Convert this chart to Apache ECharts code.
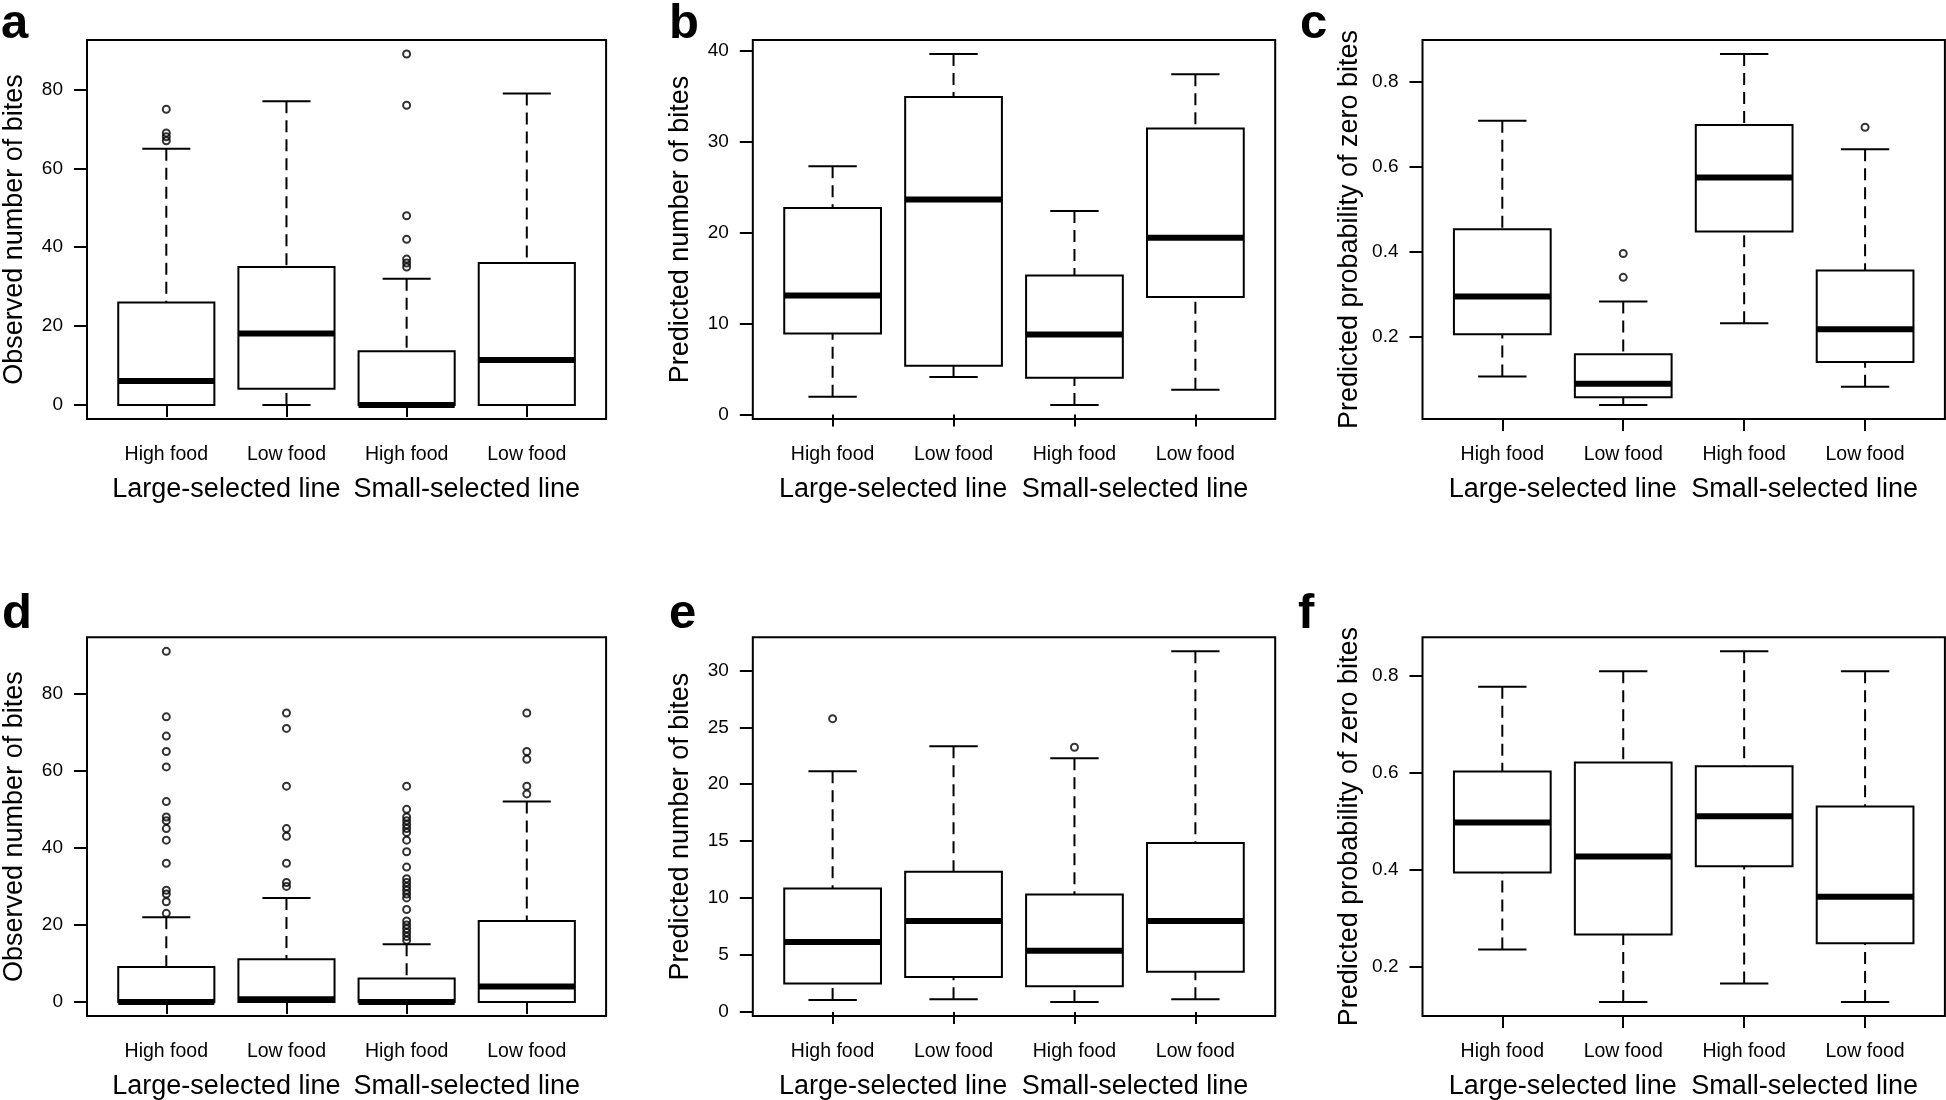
<!DOCTYPE html>
<html lang="en">
<head>
<meta charset="utf-8">
<title>Bites boxplots</title>
<script src="https://cdn.jsdelivr.net/npm/echarts@6.0.0/dist/echarts.min.js"></script>
<style>
  html, body { margin: 0; padding: 0; background: #fff; }
  #chart { width: 1946px; height: 1100px; }
</style>
</head>
<body>
<div id="chart"></div>
<script>
// categories and group labels
var cats = ['High food', 'Low food', 'High food', 'Low food'];
var groups = ['Large-selected line', 'Small-selected line'];

// five-number summaries per box: [lower whisker, Q1, median, Q3, upper whisker]
var aStats = [[0, 0, 6.1, 26.0, 65.0], [0, 4.1, 18.1, 35.0, 77.0], [0, 0, 0, 13.6, 32.0], [0, 0, 11.4, 36.0, 79.0]];
var aOut = [[75, 69, 68, 67], [], [89, 76, 48, 42, 37, 36, 35], []];

var bStats = [[1.97, 8.91, 13.08, 22.68, 27.29], [4.13, 5.37, 23.63, 34.89, 39.6], [1.06, 4.05, 8.80, 15.27, 22.36], [2.74, 12.93, 19.43, 31.42, 37.37]];
var bOut = [[], [], [], []];

var cStats = [[0.107, 0.206, 0.295, 0.453, 0.708], [0.040, 0.058, 0.090, 0.159, 0.283], [0.232, 0.448, 0.575, 0.698, 0.865], [0.083, 0.141, 0.218, 0.356, 0.641]];
var cOut = [[], [0.396, 0.340], [], [0.693]];

var dStats = [[0, 0, 0, 9.1, 22], [0, 0, 0.7, 11.1, 27], [0, 0, 0, 6.1, 15], [0, 0, 4.0, 21.0, 52]];
var dOut = [
  [91, 74, 69, 65, 61, 52, 48, 47, 45, 42, 36, 29, 28, 26, 23],
  [75, 71, 56, 45, 43, 36, 31, 30],
  [56, 50, 48, 47, 46, 45, 44, 42, 39, 35, 32, 31, 30, 29, 28, 27, 24, 21, 20, 19, 18, 17, 16],
  [75, 65, 63, 56, 54]
];

var eStats = [[1.05, 2.51, 6.14, 10.85, 21.14], [1.11, 3.07, 7.98, 12.31, 23.33], [0.88, 2.25, 5.38, 10.32, 22.28], [1.11, 3.54, 7.98, 14.85, 31.67]];
var eOut = [[25.76], [], [23.25], []];

var fStats = [[0.236, 0.395, 0.498, 0.603, 0.778], [0.128, 0.267, 0.428, 0.622, 0.810], [0.166, 0.408, 0.511, 0.614, 0.851], [0.128, 0.249, 0.345, 0.531, 0.810]];
var fOut = [[], [], [], []];

// y tick values
var countTicks = [0, 20, 40, 60, 80];
var bTicks = [0, 10, 20, 30, 40];
var eTicks = [0, 5, 10, 15, 20, 25, 30];
var probTicks = [0.2, 0.4, 0.6, 0.8];

var obsTitle = 'Observed number of bites';
var predTitle = 'Predicted number of bites';
var probTitle = 'Predicted probability of zero bites';

var font = 'Liberation Sans, Arial, Helvetica, sans-serif';

var panels = [
  { letter: 'a', stats: aStats, out: aOut, ticks: countTicks, name: obsTitle, left: 83.7, top: 40, lx: 1, ly: 0 },
  { letter: 'b', stats: bStats, out: bOut, ticks: bTicks, name: predTitle, left: 752.8, top: 40, lx: 669, ly: 0 },
  { letter: 'c', stats: cStats, out: cOut, ticks: probTicks, name: probTitle, left: 1422.5, top: 40, lx: 1300, ly: 0 },
  { letter: 'd', stats: dStats, out: dOut, ticks: countTicks, name: obsTitle, left: 83.7, top: 637.3, lx: 2, ly: 590 },
  { letter: 'e', stats: eStats, out: eOut, ticks: eTicks, name: predTitle, left: 752.8, top: 637.3, lx: 669, ly: 590 },
  { letter: 'f', stats: fStats, out: fOut, ticks: probTicks, name: probTitle, left: 1422.5, top: 637.3, lx: 1298, ly: 590 }
];

function renderBox(params, api) {
  var x = api.value(0);
  var lo = api.coord([x, api.value(1)]);
  var q1 = api.coord([x, api.value(2)]);
  var md = api.coord([x, api.value(3)]);
  var q3 = api.coord([x, api.value(4)]);
  var hi = api.coord([x, api.value(5)]);
  var w = api.size([0.8, 0])[0];
  var cx = lo[0];
  var solid = { stroke: '#000', lineWidth: 2 };
  var dash = { stroke: '#000', lineWidth: 2, lineDash: [12, 7] };
  return {
    type: 'group',
    children: [
      { type: 'rect', shape: { x: cx - w / 2, y: q3[1], width: w, height: q1[1] - q3[1] }, style: { fill: '#fff', stroke: '#000', lineWidth: 2 } },
      { type: 'line', shape: { x1: cx, y1: hi[1], x2: cx, y2: q3[1] }, style: dash },
      { type: 'line', shape: { x1: cx, y1: lo[1], x2: cx, y2: q1[1] }, style: dash },
      { type: 'line', shape: { x1: cx - w / 4, y1: hi[1], x2: cx + w / 4, y2: hi[1] }, style: solid },
      { type: 'line', shape: { x1: cx - w / 4, y1: lo[1], x2: cx + w / 4, y2: lo[1] }, style: solid },
      { type: 'line', shape: { x1: cx - w / 2, y1: md[1], x2: cx + w / 2, y2: md[1] }, style: { stroke: '#000', lineWidth: 6 } }
    ]
  };
}

var option = { animation: false, backgroundColor: '#fff', title: [], grid: [], xAxis: [], yAxis: [], series: [] };

panels.forEach(function (p, i) {
  // R style range: data extent padded by 4%
  var all = [];
  p.stats.forEach(function (s) { all = all.concat(s); });
  p.out.forEach(function (o) { all = all.concat(o); });
  var lo = Math.min.apply(null, all), hi = Math.max.apply(null, all);
  var pad = (hi - lo) * 0.04;

  option.title.push({
    text: p.letter, left: p.lx, top: p.ly, padding: 0,
    textStyle: { fontSize: 49, fontWeight: 'bold', color: '#000', fontFamily: font }
  });

  option.grid.push({
    left: p.left, top: p.top, width: 522.4, height: 379,
    show: true, borderColor: '#000', borderWidth: 2, backgroundColor: 'transparent'
  });

  option.xAxis.push({
    type: 'value', gridIndex: i, min: 0.34, max: 4.66, position: 'bottom',
    axisLine: { show: false }, splitLine: { show: false },
    axisTick: { show: true, inside: false, length: 12, customValues: [1, 2, 3, 4], lineStyle: { color: '#000', width: 2 } },
    axisLabel: {
      customValues: [1, 2, 3, 4], margin: 26, fontSize: 19.5, color: '#000', fontFamily: font,
      formatter: function (v) { return cats[Math.round(v) - 1]; }
    }
  });
  option.xAxis.push({
    type: 'value', gridIndex: i, min: 0.34, max: 4.66, position: 'bottom',
    axisLine: { show: false }, splitLine: { show: false }, axisTick: { show: false },
    axisLabel: {
      customValues: [1.5, 3.5], margin: 57, fontSize: 27, color: '#000', fontFamily: font,
      formatter: function (v) { return v < 2.5 ? groups[0] : groups[1]; }
    }
  });

  option.yAxis.push({
    type: 'value', gridIndex: i, min: lo - pad, max: hi + pad,
    axisLine: { show: false }, splitLine: { show: false },
    axisTick: { show: true, inside: false, length: 13, customValues: p.ticks, lineStyle: { color: '#000', width: 2 } },
    axisLabel: {
      customValues: p.ticks, margin: 24, fontSize: 19, color: '#000', fontFamily: font,
      formatter: function (v) { return String(Math.round(v * 10) / 10); }
    },
    name: p.name, nameLocation: 'middle', nameRotate: 90, nameGap: 59,
    nameTextStyle: { fontSize: 27, color: '#000', fontFamily: font }
  });

  option.series.push({
    type: 'custom', xAxisIndex: 2 * i, yAxisIndex: i, renderItem: renderBox,
    data: p.stats.map(function (s, k) { return [k + 1].concat(s); })
  });

  var pts = [];
  p.out.forEach(function (o, k) { o.forEach(function (v) { pts.push([k + 1, v]); }); });
  option.series.push({
    type: 'scatter', xAxisIndex: 2 * i, yAxisIndex: i, data: pts,
    symbol: 'circle', symbolSize: 7,
    itemStyle: { color: 'rgba(0,0,0,0)', borderColor: '#000', borderWidth: 2 }
  });
});

var chart = echarts.init(document.getElementById('chart'));
chart.setOption(option);
</script>
</body>
</html>
